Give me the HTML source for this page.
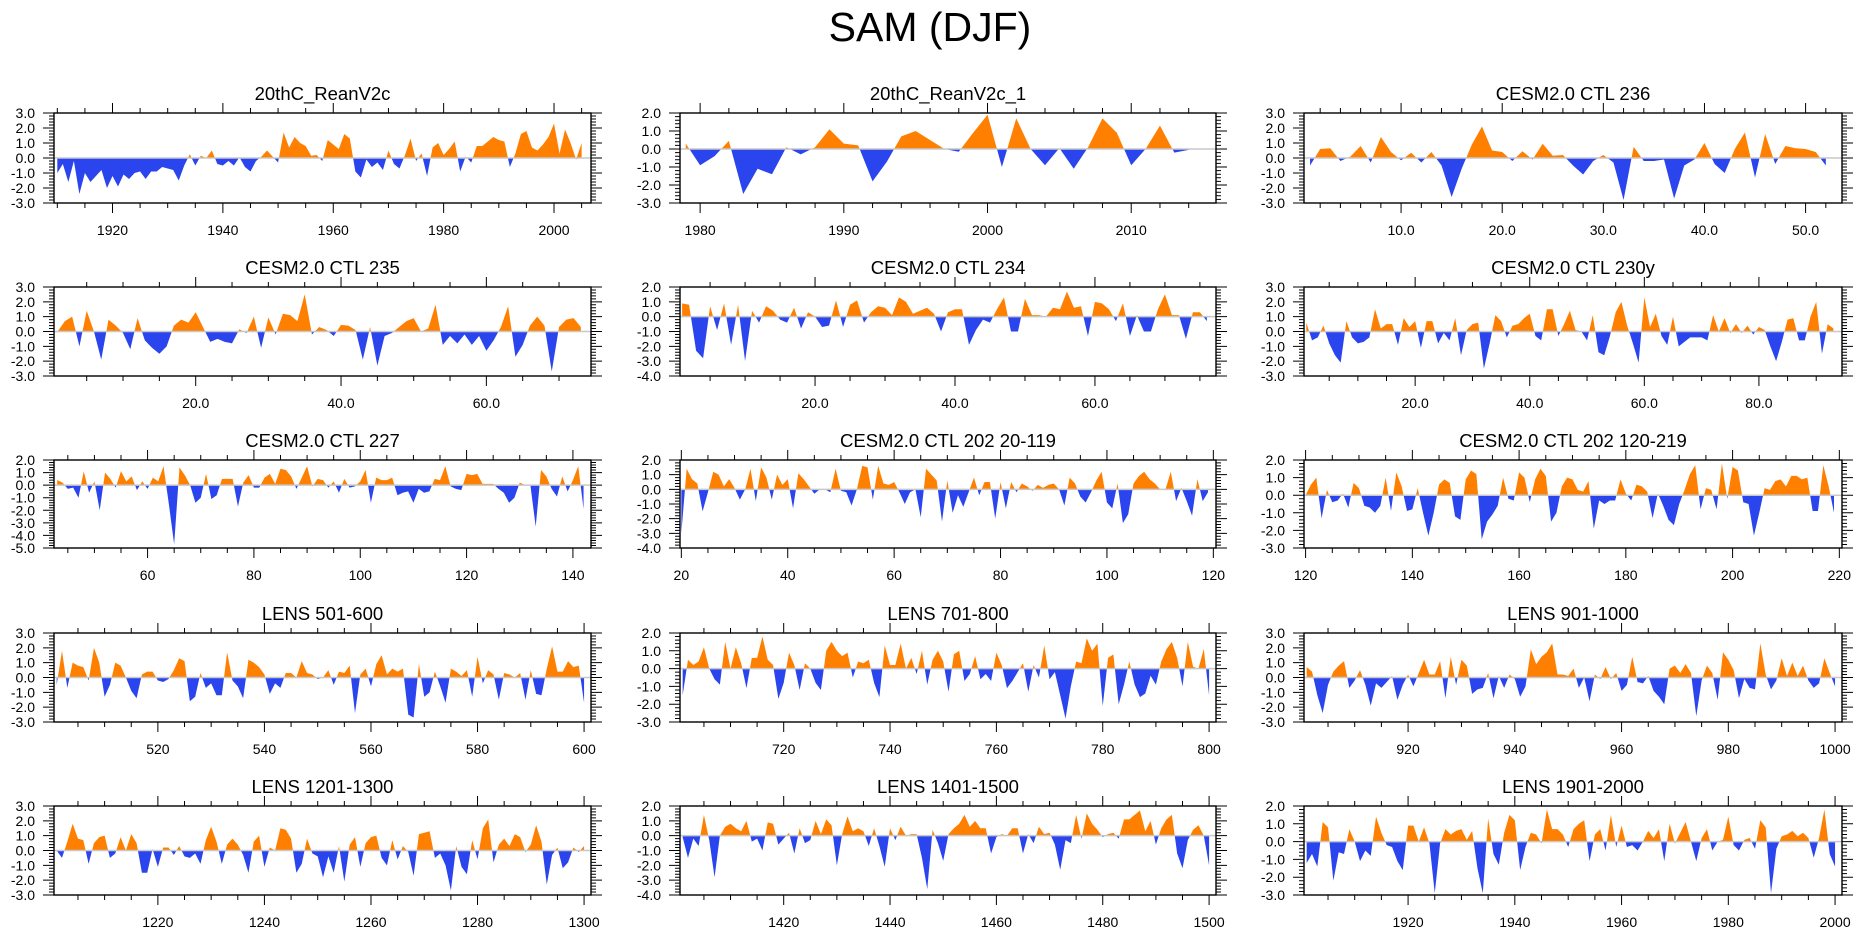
<!DOCTYPE html>
<html><head><meta charset="utf-8"><title>SAM (DJF)</title>
<style>
html,body{margin:0;padding:0;background:#fff;}
svg{display:block;font-family:"Liberation Sans",Arial,sans-serif;}
</style></head>
<body>
<svg id="chart" width="1861" height="936" viewBox="0 0 1861 936" xmlns="http://www.w3.org/2000/svg">
<rect x="0" y="0" width="1861" height="936" fill="#fff"/>
<text x="930" y="41" font-size="41" text-anchor="middle" fill="#000">SAM (DJF)</text>
</svg>
<script>
const titles = ["20thC_ReanV2c","20thC_ReanV2c_1","CESM2.0 CTL 236","CESM2.0 CTL 235","CESM2.0 CTL 234","CESM2.0 CTL 230y","CESM2.0 CTL 227","CESM2.0 CTL 202 20-119","CESM2.0 CTL 202 120-219","LENS 501-600","LENS 701-800","LENS 901-1000","LENS 1201-1300","LENS 1401-1500","LENS 1901-2000"];
const startYears = [1910,1979,1,1,1,1,43,20,120,501,701,901,1201,1401,1901];
const xMins = [1909.4,1978.6,0.4,0.5,0.7,0.6,42.4,19.75,119.7,500.5,700.5,900.5,1200.5,1400.5,1900.5];
const xMaxs = [2006.7,2015.9,53.6,74.4,77.3,94.5,143.4,120.5,220.5,601.3,801.3,1001.3,1301.3,1501.3,2001.3];
const yMins = [-3,-3,-3,-3,-4,-3,-5,-4,-3,-3,-3,-3,-3,-4,-3];
const yMaxs = [3,2,3,3,2,3,2,2,2,3,2,3,3,2,2];
const majorSteps = [20,10,10,20,20,20,20,20,20,20,20,20,20,20,20];
const minorSteps = [5,2,2,5,5,5,5,5,5,5,5,5,5,5,5];
const labelDecimals = [0,0,1,1,1,1,0,0,0,0,0,0,0,0,0];

const vals_reanv2c = [-1.0,-0.4,-1.6,-0.2,-2.4,-1.0,-1.6,-1.2,-0.8,-2.0,-1.2,-1.9,-1.1,-1.4,-1.0,-0.9,-1.4,-0.9,-0.9,-0.6,-0.7,-0.8,-1.5,-0.5,0.25,-0.5,0.15,0.0,0.5,-0.4,-0.5,-0.2,-0.5,0.05,-0.6,-0.9,-0.2,0.1,0.5,0.1,-0.3,1.7,0.7,1.4,1.0,0.8,0.15,0.2,-0.2,1.2,0.9,0.6,1.6,1.3,-0.9,-1.3,-0.1,-0.6,-0.3,-0.8,0.5,-0.4,-0.7,0.2,1.3,-0.2,0.3,-1.2,0.7,1.0,0.2,0.6,1.1,-0.9,0.1,-0.3,0.8,0.8,1.1,1.4,1.2,1.1,-0.6,0.3,1.6,1.8,0.7,0.5,0.9,1.4,2.3,0.3,1.9,1.0,-0.1,1.0];
const vals_reanv2c_1 = [0.3,-0.9,-0.4,0.45,-2.5,-1.1,-1.4,0.1,-0.3,0.1,1.1,0.3,0.2,-1.8,-0.7,0.7,1.0,0.5,0.0,-0.15,0.9,1.9,-1.0,1.7,0.0,-0.9,0.05,-1.1,0.1,1.7,0.9,-0.9,0.0,1.3,-0.2,-0.05];
const vals_ctl236 = [-0.5,0.6,0.65,-0.2,0.1,0.8,-0.3,1.4,0.4,-0.15,0.35,-0.3,0.4,-0.5,-2.6,-0.7,0.9,2.1,0.5,0.4,-0.2,0.45,-0.1,0.95,0.15,0.2,-0.5,-1.1,-0.2,0.2,-0.3,-2.8,0.75,-0.2,-0.2,-0.1,-2.7,-0.5,-0.1,1.0,-0.4,-1.0,0.6,1.7,-1.3,1.6,-0.4,0.8,0.65,0.6,0.4,-0.5];
const vals_ctl235 = [0.0,0.7,1.0,-1.0,1.4,0.0,-1.9,0.8,0.4,-0.1,-1.2,0.9,-0.6,-1.1,-1.5,-1.0,0.4,0.8,0.6,1.3,0.3,-0.7,-0.5,-0.7,-0.8,0.15,-0.1,1.0,-1.1,0.95,-0.2,1.2,1.1,0.7,2.5,-0.2,0.3,0.1,-0.3,0.45,0.4,0.1,-1.9,0.3,-2.3,-0.3,-0.1,0.3,0.7,0.9,0.0,0.2,1.8,-0.9,-0.3,-0.8,-0.2,-0.9,-0.3,-1.3,-0.6,0.3,1.7,-1.7,-0.9,0.4,1.0,0.4,-2.7,0.3,0.8,0.9,0.3];
const vals_ctl234 = [0.9,0.8,-2.3,-2.8,0.7,-0.9,0.9,-1.9,0.8,-3.0,0.4,-0.4,0.7,0.4,-0.2,-0.4,0.6,-0.8,0.3,0.0,-0.7,-0.6,1.1,-0.7,0.8,1.1,-0.4,0.3,0.7,0.6,0.1,1.3,1.0,0.2,0.4,0.6,0.2,-1.0,0.3,0.5,0.5,-1.9,-0.9,-0.2,-0.4,0.5,1.3,-1.0,-1.0,1.2,0.1,0.1,0.0,0.6,0.5,1.7,0.6,0.7,-1.3,1.0,0.9,0.5,-0.3,0.9,-1.3,0.1,-1.0,-1.0,0.5,1.5,0.1,0.1,-1.5,0.3,0.3,-0.3];
const vals_ctl230y = [0.6,-0.6,-0.4,0.4,-0.8,-1.6,-2.1,0.7,-0.4,-0.8,-0.7,-0.4,1.5,0.2,0.5,0.5,-0.9,0.9,0.3,0.7,-1.1,0.7,0.7,-0.8,-0.1,-0.6,0.9,-1.6,0.1,0.5,0.6,-2.5,-0.8,1.1,0.7,-0.4,0.4,0.5,0.9,1.2,-0.3,-0.6,1.5,1.5,-0.3,0.5,1.4,0.1,0.0,-0.6,1.1,-1.4,-1.6,-0.3,1.3,2.0,0.4,-0.8,-2.1,2.3,0.3,1.2,-0.3,-0.9,1.0,-1.0,-0.7,-0.4,-0.4,-0.4,-0.6,1.1,0.0,0.9,-0.1,0.5,-0.1,0.4,-0.2,0.3,0.1,-1.0,-2.0,-0.7,0.8,0.9,-0.6,-0.6,1.0,2.0,-1.5,0.5,0.2];
const vals_ctl227 = [0.4,0.2,-0.3,-0.2,-1.0,1.1,-0.6,0.3,-2.0,1.0,0.5,-0.2,1.1,0.3,0.7,-0.4,0.3,-0.3,0.6,0.3,1.5,-1.5,-4.7,1.4,0.8,0.0,-1.4,-1.0,0.9,-1.1,-0.8,0.5,0.5,0.5,-1.7,0.2,0.8,-0.2,-0.2,0.6,0.9,0.1,1.3,1.2,0.7,-0.3,0.6,1.5,-0.1,0.5,0.4,-0.2,0.3,-0.6,0.5,-0.2,-0.1,0.3,1.2,-1.4,0.6,0.4,0.4,0.6,-0.8,-0.6,-0.5,-1.4,-0.3,-0.6,-0.5,0.5,0.4,1.5,-0.1,-0.3,-0.4,0.9,0.8,0.9,0.1,0.1,0.1,-0.3,-0.6,-1.4,-1.0,0.2,0.0,0.0,-3.3,1.2,0.7,-0.3,-0.9,0.7,-0.5,0.4,1.5,-1.9];
const vals_ctl202a = [-3.0,1.4,0.7,0.4,-1.5,-0.2,1.2,1.0,0.2,0.7,0.1,-0.7,0.0,1.4,-0.8,1.5,0.8,-0.7,1.0,0.3,0.7,-1.3,1.1,0.7,0.2,-0.3,0.0,0.0,-0.2,1.4,-0.1,-0.2,-1.1,0.0,1.6,1.5,-0.7,1.6,0.4,0.3,0.5,-0.2,-1.0,-0.2,0.0,-1.9,1.4,1.0,0.6,-2.2,0.6,-1.6,-0.4,-1.2,-0.2,0.8,-0.4,0.5,0.5,-2.0,0.5,-1.3,0.5,-0.2,0.4,0.2,-0.1,0.3,0.1,0.3,0.4,0.0,-1.1,0.8,0.4,-0.5,-0.9,-0.2,0.6,1.2,-0.9,-1.3,0.4,-2.3,-1.7,0.4,0.9,1.2,0.7,0.4,0.0,0.0,1.2,-0.8,0.1,-0.8,-1.8,0.7,-0.8,-0.2];
const vals_ctl202b = [0.0,0.6,1.0,-1.3,0.3,-0.4,-0.3,0.1,-0.7,0.7,0.4,-0.6,-0.7,-1.0,-0.6,1.0,-0.9,1.3,0.5,-0.9,-0.8,0.4,-1.0,-2.3,-1.0,0.6,0.9,0.7,-1.2,-1.4,0.9,1.4,1.2,-2.5,-1.5,-1.1,-0.6,1.0,-0.2,-0.3,1.3,1.0,-0.4,0.9,1.5,1.1,-1.5,-1.0,0.5,1.0,0.9,0.3,0.2,0.8,-1.9,-0.3,-0.5,-0.3,-0.3,0.9,0.1,-0.3,0.6,0.5,0.2,-1.3,0.1,-0.6,-1.4,-1.7,-0.5,0.3,1.2,1.7,-0.8,0.4,0.3,-0.8,1.8,-0.2,1.6,1.4,-0.4,-0.5,-2.3,-1.0,0.4,0.3,0.8,0.9,0.5,1.1,1.1,0.9,1.0,-0.9,-0.9,1.7,0.5,-1.0];
const vals_lens501 = [-0.5,1.8,-0.7,1.0,0.8,0.7,-0.2,2.0,1.0,-1.3,-0.5,1.0,0.8,0.0,-0.9,-1.4,0.2,0.4,0.4,-0.2,-0.3,-0.1,0.5,1.3,1.1,-1.6,-1.3,0.3,-0.7,-0.4,-1.2,-1.2,1.7,-0.2,-0.6,-1.4,1.2,1.0,0.7,0.2,-1.1,-0.4,-0.7,0.3,0.3,0.0,1.1,0.3,0.2,-0.1,0.0,0.5,-0.5,0.4,0.3,0.8,-2.4,0.2,0.6,-0.6,0.9,1.5,0.2,0.6,0.4,0.6,-2.5,-2.7,0.9,-1.3,-1.0,0.4,-0.6,-1.7,0.6,0.4,0.1,0.5,-1.3,1.4,-0.4,0.5,0.2,-1.5,0.3,0.2,0.0,0.3,-1.5,0.5,-1.1,-1.2,0.6,2.1,0.4,0.4,1.1,0.7,0.8,-1.7];
const vals_lens701 = [-1.5,0.5,0.2,0.4,1.2,0.0,-0.6,-0.9,1.5,0.0,1.2,0.3,-1.1,0.6,0.6,1.8,0.5,0.2,-1.7,-0.8,0.9,0.2,-1.2,0.3,0.0,-0.8,-1.2,1.0,1.5,1.0,0.7,0.9,-0.5,0.4,0.3,0.5,-0.8,-1.6,1.3,0.2,0.2,1.4,0.0,0.6,-0.3,1.0,-0.9,0.5,1.0,0.4,-1.3,0.8,1.0,-0.7,-0.3,0.7,-0.6,-0.3,-0.7,0.9,0.2,-1.1,-0.7,-0.2,0.3,-1.3,0.2,-0.5,1.3,-0.6,-0.2,-1.5,-2.8,-1.0,0.4,0.3,1.7,1.0,1.4,-2.1,0.6,0.8,-2.0,-0.9,0.4,-0.9,-1.6,-1.4,-0.4,-0.9,0.4,1.1,1.5,0.6,-1.0,1.5,0.1,0.0,1.1,-1.5];
const vals_lens901 = [0.7,0.4,-1.2,-2.4,-0.5,0.4,0.8,1.1,-0.7,-0.2,0.5,-0.5,-1.9,-0.4,-0.7,-0.3,0.1,-1.5,-0.5,0.2,-0.6,0.3,1.2,0.2,0.2,1.1,-1.4,1.4,-0.5,1.2,0.8,-1.1,-0.8,-0.7,0.3,-1.4,0.1,-0.7,0.2,-0.1,-1.3,-0.6,1.9,0.9,1.4,1.7,2.3,0.2,0.2,0.1,0.6,-0.7,0.0,-1.6,0.2,-0.1,0.7,-0.1,0.3,-0.9,-0.5,1.4,-0.3,-0.4,0.1,-0.9,-1.3,-1.8,0.6,0.8,0.3,0.9,0.3,-2.6,-0.2,0.8,0.3,-1.5,1.7,1.2,0.5,-1.4,-0.1,-0.7,-0.8,2.3,0.2,-0.8,-0.2,1.3,0.1,1.0,0.1,0.8,-0.2,-0.7,-0.4,1.3,0.3,-0.6];
const vals_lens1201 = [0.0,-0.5,0.6,1.8,0.8,0.7,-0.9,0.5,0.9,1.0,-0.5,-0.2,0.9,0.0,1.1,0.5,-1.5,-1.5,0.1,-1.1,0.2,0.2,-0.3,0.3,-0.4,-0.5,-0.2,-0.9,0.7,1.6,0.6,-0.9,0.4,0.8,0.4,-0.3,-1.5,0.6,1.0,-1.1,0.2,0.0,1.5,1.4,0.8,-1.5,-0.9,0.8,-0.2,-0.4,-1.8,-0.4,-1.5,0.3,-2.1,0.4,0.9,-1.1,0.5,0.9,1.0,-0.5,-1.0,0.7,-0.6,0.3,-0.1,-1.7,1.1,1.2,1.3,-0.5,-0.2,-1.0,-2.7,0.3,-1.1,-1.6,0.7,-0.6,1.5,2.1,-0.8,0.4,0.8,0.3,1.1,0.9,-0.1,0.4,1.7,0.6,-2.3,-0.3,0.2,-1.2,-0.8,0.2,-0.1,0.3];
const vals_lens1401 = [-0.1,-1.5,-0.2,-0.7,1.4,-0.3,-2.8,0.0,0.6,0.8,0.5,0.3,1.0,-0.4,-0.2,-1.0,0.9,0.8,-0.6,-0.2,0.2,-1.2,0.5,-0.5,-0.3,1.0,0.1,1.1,0.7,-2.0,0.1,1.3,0.3,0.5,0.3,-0.7,0.5,-0.7,-2.1,0.5,-0.3,0.6,0.0,0.1,0.1,-1.5,-3.6,0.4,-0.5,-1.7,0.1,0.5,0.8,1.4,0.6,1.0,0.5,0.5,-1.2,-0.1,0.1,0.0,0.5,0.5,-1.2,0.1,-0.5,0.6,0.1,0.2,-0.6,-2.3,-0.3,-0.5,1.4,-0.2,1.5,0.8,0.4,-0.1,0.1,0.2,-0.2,1.1,1.1,1.4,1.7,0.3,1.0,-0.6,0.5,1.1,1.4,-1.2,-2.2,-0.3,0.4,0.7,0.0,-2.0];
const vals_lens1901 = [-1.2,-0.7,-1.4,1.1,0.8,-2.2,-0.6,-0.7,0.7,0.0,-1.1,-0.5,-0.8,1.4,0.5,-0.2,-0.3,-1.1,-1.6,0.9,0.9,0.0,0.8,-0.1,-2.9,-0.1,0.7,0.4,0.6,0.7,0.1,0.6,-1.5,-2.9,1.3,-0.7,-1.3,0.5,1.5,1.2,-1.6,-0.3,0.5,0.4,-0.1,1.8,0.7,0.7,0.4,-0.3,0.7,1.0,1.2,-1.1,0.4,0.7,-0.5,1.5,-0.3,0.9,-0.3,-0.2,-0.5,0.0,0.6,0.2,0.7,-1.1,1.0,-0.1,0.5,1.1,0.0,-1.1,0.2,0.7,-0.5,0.0,0.1,1.4,-0.2,-0.5,0.1,0.2,-0.4,1.2,0.8,-2.9,-0.4,0.3,0.4,0.6,0.3,0.5,0.2,-0.9,0.2,1.8,-0.7,-1.4];

const seriesList = [vals_reanv2c,vals_reanv2c_1,vals_ctl236,vals_ctl235,vals_ctl234,vals_ctl230y,vals_ctl227,vals_ctl202a,vals_ctl202b,vals_lens501,vals_lens701,vals_lens901,vals_lens1201,vals_lens1401,vals_lens1901];

const NS = "http://www.w3.org/2000/svg";
const svg = document.getElementById("chart");
const colX = [[54,591],[680,1216],[1304,1842]];
const rowY = [[113,203],[287,376],[460,548],[633,722],[806,895]];

function mk(tag, attrs, parent){
  const e = document.createElementNS(NS, tag);
  for (const k in attrs) e.setAttribute(k, attrs[k]);
  (parent||svg).appendChild(e);
  return e;
}
function slug(s){return s.toLowerCase().replace(/[^a-z0-9]+/g,'-').replace(/^-|-$/g,'');}

for (let p = 0; p < 15; p++) {
  const c = p % 3, r = Math.floor(p / 3);
  const bx0 = colX[c][0], bx1 = colX[c][1], by0 = rowY[r][0], by1 = rowY[r][1];
  const xmin = xMins[p], xmax = xMaxs[p], ymin = yMins[p], ymax = yMaxs[p];
  const sx = v => bx0 + (v - xmin) / (xmax - xmin) * (bx1 - bx0);
  const sy = v => by0 + (ymax - v) / (ymax - ymin) * (by1 - by0);
  const vals = seriesList[p], start = startYears[p];
  const g = mk("g", {});
  
  

  const t = mk("text", {x: (bx0 + bx1) / 2, y: by0 - 13, "font-size": 18.5, "text-anchor": "middle", fill: "#000"}, g);
  
  
  t.textContent = titles[p];

  const y0 = sy(0);
  const cidA = "ca" + p, cidB = "cb" + p;
  const defs = mk("defs", {}, g);
  const cpA = mk("clipPath", {id: cidA}, defs);
  mk("rect", {x: bx0, y: by0, width: bx1 - bx0, height: y0 - by0}, cpA);
  const cpB = mk("clipPath", {id: cidB}, defs);
  mk("rect", {x: bx0, y: y0, width: bx1 - bx0, height: by1 - y0}, cpB);

  let d = "M" + sx(start).toFixed(2) + "," + y0.toFixed(2);
  for (let i = 0; i < vals.length; i++) d += " L" + sx(start + i).toFixed(2) + "," + sy(vals[i]).toFixed(2);
  d += " L" + sx(start + vals.length - 1).toFixed(2) + "," + y0.toFixed(2) + " Z";

  const pos = mk("path", {d: d, fill: "#ff8000", "clip-path": "url(#" + cidA + ")"}, g);
  
  
  const neg = mk("path", {d: d, fill: "#2a45ee", "clip-path": "url(#" + cidB + ")"}, g);
  
  

  const zl = mk("line", {x1: bx0, x2: bx1, y1: y0, y2: y0, stroke: "#c8c8c8", "stroke-width": 1.5}, g);
  
  

  const box = mk("rect", {x: bx0, y: by0, width: bx1 - bx0, height: by1 - by0, fill: "none", stroke: "#000", "stroke-width": 1.4}, g);
  
  

  // x ticks
  const mn = minorSteps[p], mj = majorSteps[p];
  let tk = "";
  for (let v = Math.ceil(xmin / mn) * mn; v <= xmax + 1e-9; v += mn) {
    const X = sx(v).toFixed(2);
    const isMaj = Math.abs(v / mj - Math.round(v / mj)) < 1e-6;
    const L = isMaj ? 10 : 5;
    tk += "M" + X + "," + by1 + " v" + L + " M" + X + "," + by0 + " v" + (-L) + " ";
    if (isMaj) {
      const lb = mk("text", {x: X, y: by1 + 32, "font-size": 14, "text-anchor": "middle", fill: "#000"}, g);
      
      
      lb.textContent = v.toFixed(labelDecimals[p]);
    }
  }
  // y ticks
  for (let k = Math.round(ymin * 5); k <= Math.round(ymax * 5); k++) {
    const v = k / 5, Y = sy(v).toFixed(2);
    const isMaj = k % 5 === 0;
    const L = isMaj ? 11 : 5;
    tk += "M" + bx0 + "," + Y + " h" + (-L) + " M" + bx1 + "," + Y + " h" + L + " ";
    if (isMaj) {
      const lb = mk("text", {x: bx0 - 19, y: (+Y + 5), "font-size": 14, "text-anchor": "end", fill: "#000"}, g);
      
      
      lb.textContent = v.toFixed(1);
    }
  }
  const ticks = mk("path", {d: tk, stroke: "#000", "stroke-width": 1, fill: "none"}, g);
  
  
}
</script>
</body></html>
